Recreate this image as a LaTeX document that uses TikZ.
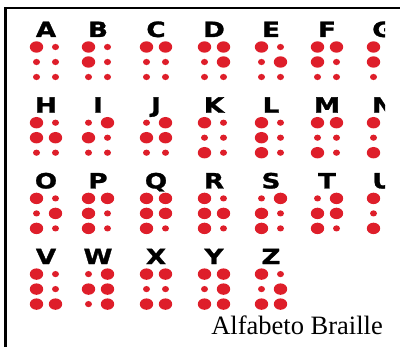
\documentclass[tikz,border=0pt]{standalone}
\usepackage{fontspec}
\setmainfont{Liberation Serif}
\newfontfamily\letterfont[FakeStretch=1.25,BoldFeatures={FakeBold=1.3}]{DejaVu Sans}
\usetikzlibrary{calc}
\definecolor{brailleRed}{RGB}{222,30,42}

\begin{document}
\begin{tikzpicture}[x=1pt,y=-1pt,
    letter/.style={font=\letterfont\bfseries\fontsize{21}{21}\selectfont,
        anchor=base, inner sep=0pt},  % bold black letter above each cell
    dot1/.style={x radius=6.7pt, y radius=5.7pt},  % raised dot
    dot0/.style={x radius=3.5pt, y radius=3.1pt}   % flat dot
]
  \useasboundingbox (0,0) rectangle (400,347);
  % frame of the cell
  \draw[line width=2.3pt] (400,7.8) -| (5.5,347);

  \begin{scope}
    \clip (0,0) rectangle (385,347);
    \foreach \ch/\x/\r/\pat in {
        A/46/0/{1,0,0,0,0,0}, B/98/0/{1,1,0,0,0,0}, C/156/0/{1,0,0,1,0,0},
        D/214/0/{1,0,0,1,1,0}, E/271/0/{1,0,0,0,1,0}, F/327/0/{1,1,0,1,0,0},
        G/383/0/{1,1,0,1,1,0},
        H/46/1/{1,1,0,0,1,0}, I/98/1/{0,1,0,1,0,0}, J/156/1/{0,1,0,1,1,0},
        K/214/1/{1,0,1,0,0,0}, L/271/1/{1,1,1,0,0,0}, M/327/1/{1,0,1,1,0,0},
        N/383/1/{1,0,1,1,1,0},
        O/46/2/{1,0,1,0,1,0}, P/98/2/{1,1,1,1,0,0}, Q/156/2/{1,1,1,1,1,0},
        R/214/2/{1,1,1,0,1,0}, S/271/2/{0,1,1,1,0,0}, T/327/2/{0,1,1,1,1,0},
        U/383/2/{1,0,1,0,0,1},
        V/46/3/{1,1,1,0,0,1}, W/98/3/{0,1,0,1,1,1}, X/156/3/{1,0,1,1,0,1},
        Y/214/3/{1,0,1,1,1,1}, Z/271/3/{1,0,1,0,1,1}}
    {
      \node[letter] (\ch) at (\x,37+75.7*\r) {\ch};
      \foreach \d [count=\k from 0] in \pat {
        \pgfmathsetmacro\dx{ifthenelse(\k<3,-9.5,9.5)}
        \pgfmathsetmacro\dy{10+15*mod(\k,3)}
        \fill[brailleRed] ($(\ch.base)+(\dx,\dy)$) ellipse [dot\d];
      }
    }
  \end{scope}

  \node[anchor=base east, inner sep=0pt, font=\fontsize{26.5}{26.5}\selectfont]
    (caption) at (383,335) {Alfabeto Braille};
\end{tikzpicture}
\end{document}
